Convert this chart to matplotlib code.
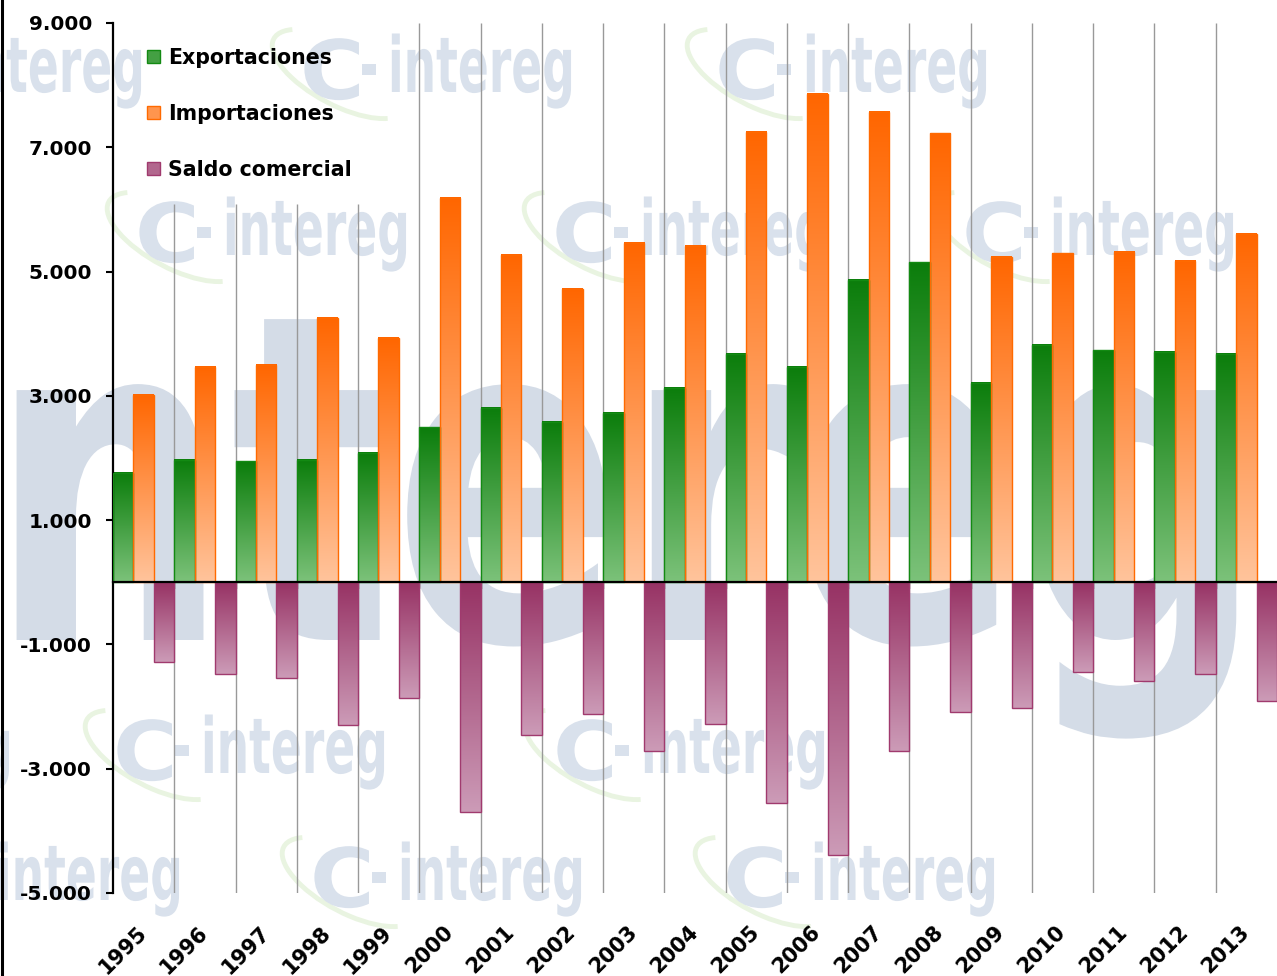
import numpy as np
import matplotlib
matplotlib.use('Agg')
import matplotlib.pyplot as plt
from matplotlib.colors import LinearSegmentedColormap
from matplotlib.textpath import TextPath
from matplotlib.font_manager import FontProperties
from matplotlib.patches import PathPatch, Patch, Arc
from matplotlib.transforms import Affine2D, IdentityTransform
from matplotlib.lines import Line2D

# datos (millones)
anios = [str(a) for a in range(1995, 2014)]
exportaciones = [1765, 1968, 1946, 1968, 2086, 2493, 2810, 2575, 2725, 3127,
                 3674, 3465, 4866, 5146, 3214, 3819, 3732, 3710, 3674]
importaciones = [3014, 3465, 3500, 4253, 3933, 6189, 5267, 4715, 5465, 5412,
                 7251, 7858, 7573, 7225, 5236, 5292, 5320, 5176, 5605]
saldo = [-1278, -1476, -1540, -2291, -1859, -3702, -2462, -2124, -2720, -2281,
         -3552, -4390, -2720, -2086, -2022, -1443, -1588, -1475, -1909]
series = ['Exportaciones', 'Importaciones', 'Saldo comercial']
yticks = [9000, 7000, 5000, 3000, 1000, -1000, -3000, -5000]

# colores: (arriba, abajo, borde)
colores = [('#0b7d0b', '#7cc27a', '#138a13'),
           ('#ff6600', '#ffc49c', '#ff6a00'),
           ('#973264', '#cc9bb7', '#a03a6e')]

W, H = 1277, 976
fig = plt.figure(figsize=(W / 100, H / 100), dpi=100)
ax = fig.add_axes([113 / W, 1 - 893 / H, 1 - 113 / W, (893 - 23) / H])
ax.set_facecolor('none')

# marca de agua (logo intereg)
fp = FontProperties(family='DejaVu Sans', weight='bold')
wm = '#d4dce7'
wm2 = '#d9e1ec'


def marca(texto, x, base, sx, sy, color):
    tp = TextPath((0, 0), texto, size=1, prop=fp)
    tr = Affine2D().scale(sx, sy).translate(x, H - base)
    p = PathPatch(tr.transform_path(tp), facecolor=color, edgecolor='none',
                  transform=IdentityTransform(), zorder=-5)
    fig.add_artist(p)


def logo(cx, base):
    a = Arc((cx + 40, H - base + 18), 150, 62, angle=-28, theta1=165, theta2=345,
            color='#e9f4e1', lw=3.5, transform=IdentityTransform(), zorder=-5)
    fig.add_artist(a)
    marca('C', cx, base + 7, 88, 82, wm2)
    marca('-', cx + 60, base, 45.6, 77, wm2)
    marca('intereg', cx + 88, base, 45.6, 77, wm2)


marca('ntereg', -12, 640, 340, 457, wm)
for cx in (-130, 300, 715):
    logo(cx, 92)
for cx in (135, 552, 962):
    logo(cx, 255)
for cx in (-262, 113, 553):
    logo(cx, 773)
for cx in (-92, 310, 723):
    logo(cx, 900)

# barras con degradado
n = len(anios)
x = np.arange(n)
ancho = 1 / 3
grad = np.linspace(0, 1, 256).reshape(-1, 1)
handles = []
for k, (vals, (c_top, c_bot, c_edge)) in enumerate(zip([exportaciones, importaciones, saldo], colores)):
    cmap = LinearSegmentedColormap.from_list('g%d' % k, [c_top, c_bot])
    pos = x + ancho * k + ancho / 2
    bars = ax.bar(pos, vals, width=ancho, facecolor='none', edgecolor=c_edge,
                  linewidth=1, zorder=3)
    for b in bars:
        x0, w = b.get_x(), b.get_width()
        y0, h = b.get_y(), b.get_height()
        ax.imshow(grad, cmap=cmap, extent=(x0, x0 + w, min(y0, y0 + h), max(y0, y0 + h)),
                  aspect='auto', origin='upper', interpolation='bilinear', zorder=2)
    handles.append(Patch(facecolor=cmap(0.5), edgecolor=c_edge, linewidth=1))

ax.set_xlim(0, n)
ax.set_ylim(-5000, 9000)

# ejes
for s in ['top', 'right']:
    ax.spines[s].set_visible(False)
ax.spines['left'].set_linewidth(1.6)
ax.spines['bottom'].set_position(('data', 0))
ax.spines['bottom'].set_linewidth(1.6)
ax.spines['bottom'].set_zorder(5)

ax.set_yticks(yticks)
ax.set_yticklabels([f"{v:,.0f}".replace(',', '.') for v in yticks])
ax.tick_params(axis='y', direction='out', length=5, width=1.5, pad=10,
               labelsize=14.5, colors='black')
for t in ax.get_yticklabels():
    t.set_fontweight('bold')

limites = list(range(1, n))
ax.set_xticks(limites)
ax.set_xticklabels([])
ax.tick_params(axis='x', direction='out', length=5, width=1.6, colors='black')

sec = ax.secondary_xaxis('bottom')
sec.set_xticks(x + 0.5)
sec.set_xticklabels(anios, rotation=45, ha='right', va='center',
                    rotation_mode='anchor', fontsize=15, fontweight='bold')
sec.tick_params(length=0, pad=26)
sec.spines['bottom'].set_visible(False)

# leyenda
leg = ax.legend(handles, series, loc='upper left',
                bbox_to_anchor=(122 / W, 1 - 23 / H), bbox_transform=fig.transFigure,
                borderaxespad=0, borderpad=1.2, frameon=False,
                prop=FontProperties(family='DejaVu Sans', weight='bold', size=14.8),
                handlelength=0.65, handleheight=0.65, handletextpad=0.4,
                labelspacing=1.75)

# lineas verticales de division (tapadas por la leyenda)
fig.canvas.draw()
bb = leg.get_window_extent()
inv = ax.transData.inverted()
xl, yb = inv.transform((bb.x0, bb.y0))
xr, yt = inv.transform((bb.x1, bb.y1))
for b in limites:
    if xl <= b <= xr:
        ax.vlines(b, -5000, yb, color='#999999', lw=1, zorder=1)
        ax.vlines(b, yt, 9000, color='#999999', lw=1, zorder=1)
    else:
        ax.vlines(b, -5000, 9000, color='#999999', lw=1, zorder=1)

# borde izquierdo negro
fig.add_artist(Line2D([1.5, 1.5], [0, H], color='black', lw=2.2,
                      transform=IdentityTransform()))

fig.savefig('out.png', dpi=100)
